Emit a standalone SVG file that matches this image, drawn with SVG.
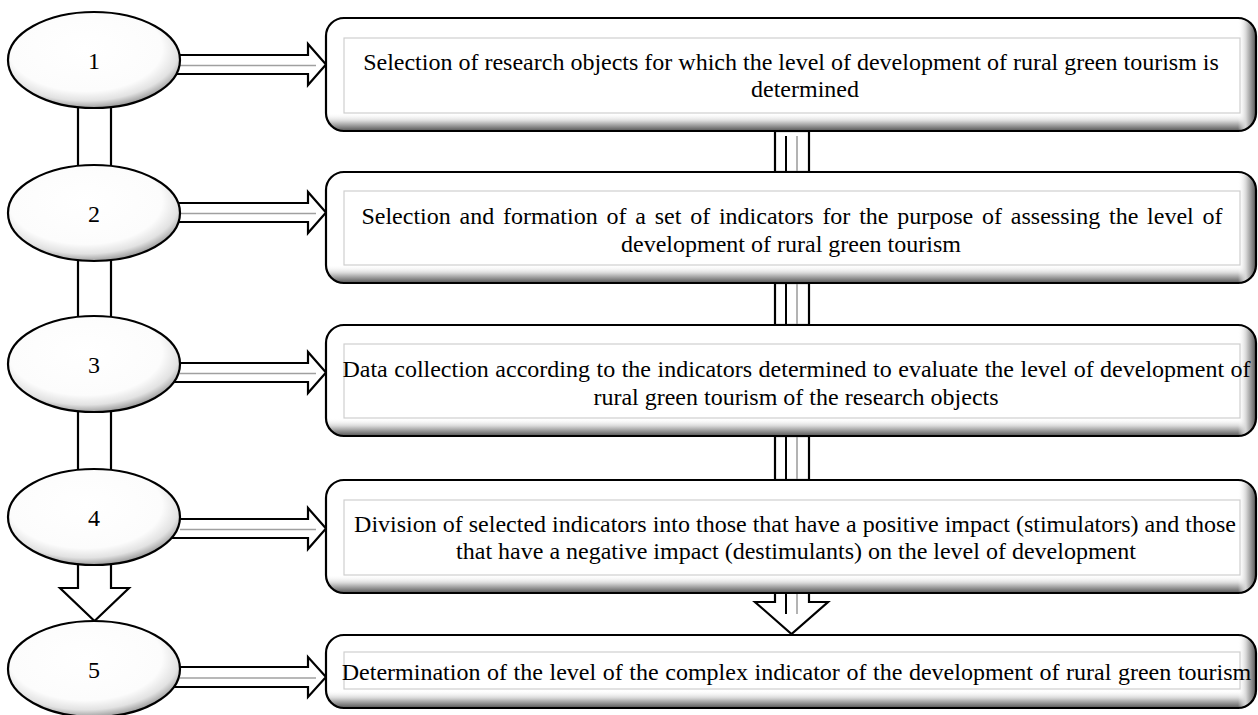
<svg xmlns="http://www.w3.org/2000/svg" width="1258" height="715" viewBox="0 0 1258 715">
  <defs>
    <radialGradient id="ellG" cx="0.45" cy="0.38" r="0.62">
      <stop offset="0" stop-color="#ffffff"/>
      <stop offset="0.72" stop-color="#fcfcfc"/>
      <stop offset="0.88" stop-color="#e2e2e2"/>
      <stop offset="1" stop-color="#a0a0a0"/>
    </radialGradient>
    <linearGradient id="shadowV" x1="0" y1="0" x2="0" y2="1">
      <stop offset="0" stop-color="#ffffff" stop-opacity="0"/>
      <stop offset="0.5" stop-color="#ffffff" stop-opacity="0"/>
      <stop offset="0.72" stop-color="#d8d8d8"/>
      <stop offset="1" stop-color="#555555"/>
    </linearGradient>
    <linearGradient id="shadowH" x1="0" y1="0" x2="1" y2="0">
      <stop offset="0" stop-color="#ffffff" stop-opacity="0"/>
      <stop offset="0.5" stop-color="#ffffff" stop-opacity="0"/>
      <stop offset="0.72" stop-color="#d8d8d8"/>
      <stop offset="1" stop-color="#555555"/>
    </linearGradient>
    <style>
      .ell { fill: url(#ellG); stroke: #000; stroke-width: 2.2; }
      .num { font-family: "Liberation Serif", "Times New Roman", serif; font-size: 24px; fill: #000; text-anchor: middle; }
      .txt { font-family: "Liberation Serif", "Times New Roman", serif; font-size: 24px; fill: #000; text-anchor: middle; }
      .boxbg { fill: #ffffff; }
      .shv { fill: url(#shadowV); }
      .shh { fill: url(#shadowH); }
      .inner { fill: #ffffff; stroke: #cfcfcf; stroke-width: 1.2; }
      .outline { fill: none; stroke: #000; stroke-width: 2.2; }
      .conn { fill: #ffffff; stroke: #000; stroke-width: 2.2; stroke-linejoin: miter; }
      .gline { stroke: #a0a0a0; stroke-width: 1.6; fill: none; }
      .dline { stroke: #000; stroke-width: 2; fill: none; }
    </style>
  </defs>
  <rect x="0" y="0" width="1258" height="715" fill="#ffffff"/>

  <g id="connectors">
    <rect class="conn" x="78" y="95" width="33" height="80"/>
    <rect class="conn" x="78" y="248" width="33" height="80"/>
    <rect class="conn" x="78" y="400" width="33" height="80"/>
    <polygon class="conn" points="78,550 111,550 111,588 129,588 94.5,621 60,588 78,588"/>
    <polygon class="conn" points="165,55 308,55 308,44 326,64.5 308,85 308,74 165,74"/>
    <line class="gline" x1="180" y1="65.5" x2="316" y2="65.5"/>
    <polygon class="conn" points="165,203 308,203 308,192 326,212.5 308,233 308,222 165,222"/>
    <line class="gline" x1="180" y1="213.5" x2="316" y2="213.5"/>
    <polygon class="conn" points="165,363 308,363 308,352 326,372.5 308,393 308,382 165,382"/>
    <line class="gline" x1="180" y1="373.5" x2="316" y2="373.5"/>
    <polygon class="conn" points="165,519 308,519 308,508 326,528.5 308,549 308,538 165,538"/>
    <line class="gline" x1="180" y1="529.5" x2="316" y2="529.5"/>
    <polygon class="conn" points="165,667 308,667 308,657 326,677 308,697 308,687 165,687"/>
    <line class="gline" x1="180" y1="678" x2="316" y2="678"/>
    <rect class="conn" x="775" y="131" width="34" height="41"/>
    <line class="dline" x1="786" y1="136" x2="786" y2="172"/>
    <line class="gline" x1="797" y1="136" x2="797" y2="172"/>
    <rect class="conn" x="775" y="283" width="34" height="42"/>
    <line class="dline" x1="786" y1="283" x2="786" y2="325"/>
    <line class="gline" x1="797" y1="283" x2="797" y2="325"/>
    <rect class="conn" x="775" y="436" width="34" height="44"/>
    <line class="dline" x1="786" y1="436" x2="786" y2="480"/>
    <line class="gline" x1="797" y1="436" x2="797" y2="480"/>
    <polygon class="conn" points="775,590 809,590 809,602 828,602 791.5,634 755,602 775,602"/>
    <line class="dline" x1="786" y1="594" x2="786" y2="614"/>
    <line class="gline" x1="797" y1="594" x2="797" y2="614"/>
  </g>

  <g id="ellipse1"><ellipse class="ell" cx="94" cy="60" rx="86" ry="48"/><text class="num" x="94" y="69">1</text></g>
  <g id="ellipse2"><ellipse class="ell" cx="94" cy="213" rx="86" ry="48"/><text class="num" x="94" y="222">2</text></g>
  <g id="ellipse3"><ellipse class="ell" cx="94" cy="364" rx="86" ry="48"/><text class="num" x="94" y="373">3</text></g>
  <g id="ellipse4"><ellipse class="ell" cx="94" cy="517" rx="86" ry="48"/><text class="num" x="94" y="526">4</text></g>
  <g id="ellipse5"><ellipse class="ell" cx="94" cy="669" rx="86" ry="48"/><text class="num" x="94" y="678">5</text></g>

  <g id="box1">
    <rect class="boxbg" x="326" y="18" width="930" height="113" rx="18"/>
    <rect class="shv" x="326" y="95" width="930" height="36" rx="18"/>
    <rect class="shh" x="1220" y="18" width="36" height="113" rx="18"/>
    <rect class="inner" x="344" y="38" width="896" height="75"/>
    <rect class="outline" x="326" y="18" width="930" height="113" rx="18"/>
    <text class="txt" x="791" y="70">Selection of research objects for which the level of development of rural green tourism is</text>
    <text class="txt" x="805" y="97">determined</text>
  </g>
  <g id="box2">
    <rect class="boxbg" x="326" y="172" width="930" height="111" rx="18"/>
    <rect class="shv" x="326" y="247" width="930" height="36" rx="18"/>
    <rect class="shh" x="1220" y="172" width="36" height="111" rx="18"/>
    <rect class="inner" x="344" y="191" width="896" height="74"/>
    <rect class="outline" x="326" y="172" width="930" height="111" rx="18"/>
    <text class="txt" x="792" y="224" word-spacing="2.8">Selection and formation of a set of indicators for the purpose of assessing the level of</text>
    <text class="txt" x="791" y="251.5">development of rural green tourism</text>
  </g>
  <g id="box3">
    <rect class="boxbg" x="326" y="325" width="930" height="111" rx="18"/>
    <rect class="shv" x="326" y="400" width="930" height="36" rx="18"/>
    <rect class="shh" x="1220" y="325" width="36" height="111" rx="18"/>
    <rect class="inner" x="344" y="344" width="896" height="74"/>
    <rect class="outline" x="326" y="325" width="930" height="111" rx="18"/>
    <text class="txt" x="796.5" y="377" word-spacing="0.5">Data collection according to the indicators determined to evaluate the level of development of</text>
    <text class="txt" x="796" y="404.5">rural green tourism of the research objects</text>
  </g>
  <g id="box4">
    <rect class="boxbg" x="326" y="480" width="930" height="113" rx="18"/>
    <rect class="shv" x="326" y="557" width="930" height="36" rx="18"/>
    <rect class="shh" x="1220" y="480" width="36" height="113" rx="18"/>
    <rect class="inner" x="344" y="500" width="896" height="75"/>
    <rect class="outline" x="326" y="480" width="930" height="113" rx="18"/>
    <text class="txt" x="795" y="532">Division of selected indicators into those that have a positive impact (stimulators) and those</text>
    <text class="txt" x="796" y="558.5">that have a negative impact (destimulants) on the level of development</text>
  </g>
  <g id="box5">
    <rect class="boxbg" x="326" y="635" width="930" height="73" rx="18"/>
    <rect class="shv" x="326" y="672" width="930" height="36" rx="18"/>
    <rect class="shh" x="1220" y="635" width="36" height="73" rx="18"/>
    <rect class="inner" x="344" y="652" width="896" height="37"/>
    <rect class="outline" x="326" y="635" width="930" height="73" rx="18"/>
    <text class="txt" x="796.5" y="680" word-spacing="0.6">Determination of the level of the complex indicator of the development of rural green tourism</text>
  </g>
</svg>
